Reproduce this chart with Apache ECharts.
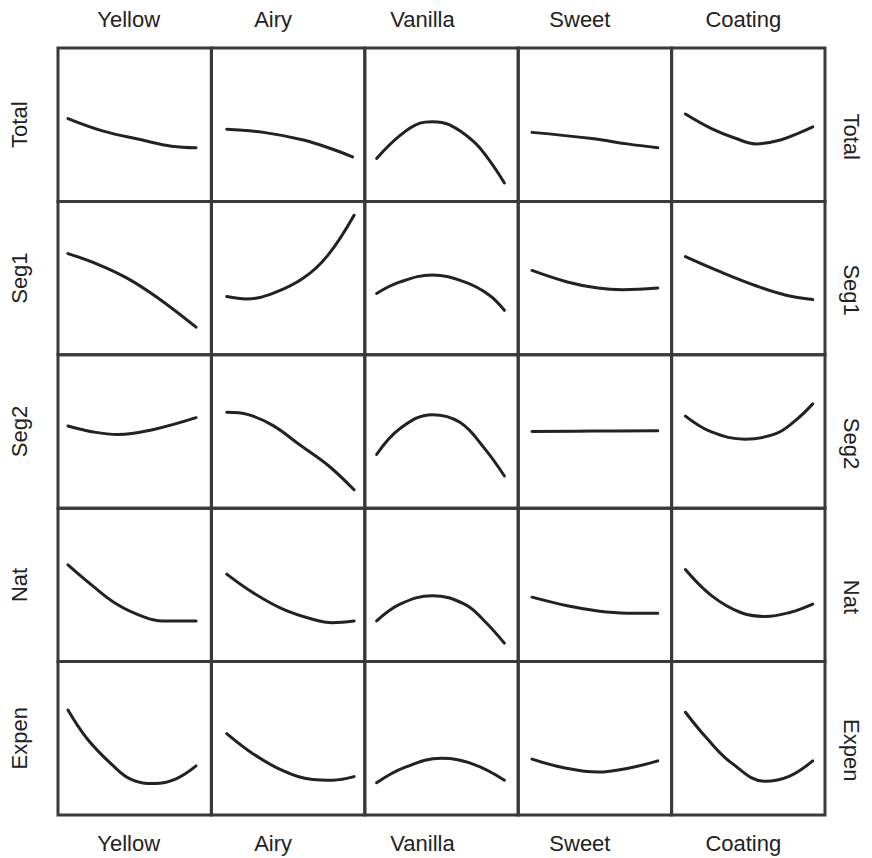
<!DOCTYPE html>
<html>
<head>
<meta charset="utf-8">
<script src="https://cdn.jsdelivr.net/npm/echarts@6/dist/echarts.min.js"></script>
<style>html,body{margin:0;padding:0;background:#fff;}#main{width:872px;height:858px;}</style>
</head>
<body>
<div id="main"></div>
<script>
// Column and row labels
const columns = ['Yellow', 'Airy', 'Vanilla', 'Sweet', 'Coating'];
const rows = ['Total', 'Seg1', 'Seg2', 'Nat', 'Expen'];

// Curves: [x, y] within each cell, 0..100 (x left->right, y bottom->top)
const totalRow = [
  [[6.5,54],[29,46],[55,40],[74,36],[90,35]],
  [[10,47],[34,45],[60,40],[79,34],[92,29]],
  [[7.7,28],[23,43],[36,51],[44,52],[55,50],[71,39],[81,27],[91,12]],
  [[9,45],[48,41],[71,37.5],[91,35]],
  [[9,57],[26,47.5],[42,41],[55,37.5],[71,40],[84,45],[92,48.6]]
];
const seg1Row = [
  [[6.5,66],[26,59],[45,50],[64.5,37.5],[90,18]],
  [[10,38],[23,36.4],[40,40],[60,50],[76,65],[93,91]],
  [[7.7,40],[23,47.5],[44,52],[65,47.5],[81,39],[91,29]],
  [[9,55],[32,47.5],[52,43.5],[68,42.4],[91,43.5]],
  [[9,64],[32,54],[55,45],[74,39],[92,36]]
];
const seg2Row = [
  [[6.5,53.6],[23,49.7],[39,48],[61,51],[90,59]],
  [[10,62.5],[24,61],[40,54],[58,41],[76,28],[93,12]],
  [[7.7,35],[23,52],[44,61],[62,56],[78,39],[91,21]],
  [[9,50],[50,50.3],[91,50.5]],
  [[9,60],[26,49.7],[48,45],[68,48.6],[81,57.4],[92,68]]
];
const natRow = [
  [[6.5,63],[23,49],[39,37],[55,29.5],[68,26.5],[90,26.5]],
  [[10,57],[27,45],[47,34],[66,27.6],[79,25.4],[93,26.5]],
  [[7.7,26.5],[23,37.5],[44,43],[65,37.5],[78,26.5],[91,12]],
  [[9,42],[32,36.4],[52,33],[71,31.6],[91,31.6]],
  [[9,60],[26,43],[45,32],[61,29.4],[77,32],[92,37.5]]
];
const expenRow = [
  [[6.5,68.4],[19,49.7],[35,33],[48,23],[63,20.5],[77,23.6],[90,32]],
  [[10,53],[27,40],[47,28.7],[66,23.2],[79,22.7],[93,25]],
  [[7.7,21],[26,31],[50,37],[71,33],[91,22.7]],
  [[9,36.4],[29,31],[52,28],[74,31],[91,35.3]],
  [[9,67],[23,50],[39,34],[61,22],[77,25.4],[92,35.3]]
];
const allRows = [totalRow, seg1Row, seg2Row, natRow, expenRow];

// Layout
const L = 58, T = 48, W = 153.4, H = 153.4;
const FONT = '22px "Liberation Sans", Arial, sans-serif';
const colShift = [-6, -15, -19, -15, -5];
const grids = [], xAxes = [], yAxes = [], series = [], graphics = [];
let idx = 0;
for (let r = 0; r < 5; r++) {
  for (let c = 0; c < 5; c++) {
    grids.push({
      left: L + c * W, top: T + r * H, width: W, height: H,
      show: true, borderColor: '#3a3a3a', borderWidth: 3, backgroundColor: 'transparent'
    });
    xAxes.push({
      gridIndex: idx, type: 'value', min: 0, max: 100, show: false
    });
    yAxes.push({
      gridIndex: idx, type: 'value', min: 0, max: 100, show: false
    });
    series.push({
      type: 'line', xAxisIndex: idx, yAxisIndex: idx,
      data: allRows[r][c], smooth: 0.4, showSymbol: false, symbol: 'none',
      lineStyle: {color: '#222', width: 3, cap: 'round'}, silent: true, animation: false
    });
    idx++;
  }
}
// Labels
for (let c = 0; c < 5; c++) {
  const cx = L + (c + 0.5) * W + colShift[c];
  graphics.push({type: 'text', x: cx, y: 19, style: {text: columns[c], font: FONT, fill: '#222', align: 'center', verticalAlign: 'middle'}});
  graphics.push({type: 'text', x: cx, y: 843, style: {text: columns[c], font: FONT, fill: '#222', align: 'center', verticalAlign: 'middle'}});
}
for (let r = 0; r < 5; r++) {
  const cy = T + (r + 0.5) * H;
  graphics.push({type: 'text', x: 19, y: cy, rotation: Math.PI / 2, style: {text: rows[r], font: FONT, fill: '#222', align: 'center', verticalAlign: 'middle'}});
  graphics.push({type: 'text', x: 851, y: cy + 12, rotation: -Math.PI / 2, style: {text: rows[r], font: FONT, fill: '#222', align: 'center', verticalAlign: 'middle'}});
}

const chart = echarts.init(document.getElementById('main'), null, {renderer: 'svg'});
chart.setOption({
  backgroundColor: '#fff',
  animation: false,
  grid: grids,
  xAxis: xAxes,
  yAxis: yAxes,
  series: series,
  graphic: graphics
});
</script>
</body>
</html>
